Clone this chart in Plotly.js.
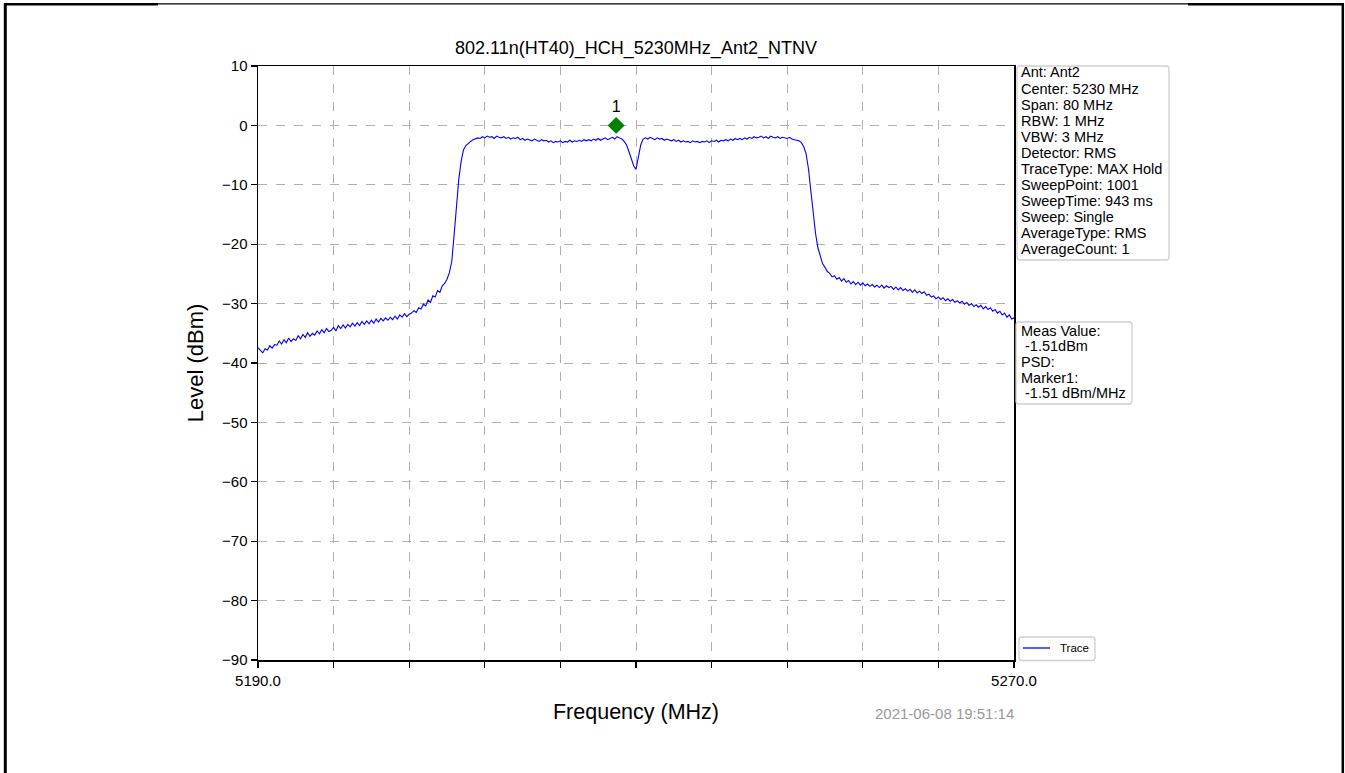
<!DOCTYPE html>
<html>
<head>
<meta charset="utf-8">
<script src="https://cdn.plot.ly/plotly-3.0.1.min.js"></script>
<style>
  html, body { margin: 0; padding: 0; background: #fff; }
  #chart { width: 1345px; height: 773px; }
</style>
</head>
<body>
<div id="chart"></div>
<script>
// ---- data ----
const startFreq = 5190.0;   // MHz
const stepFreq = 0.25;      // MHz between samples
const traceLevel = [
  // 5190.0 - 5206.0
  -37.4, -37.9, -38.3, -37.6, -37.8, -37.1, -37.5, -36.9,
  -37.0, -36.3, -36.8, -36.1, -36.6, -35.8, -36.4, -35.9,
  -36.2, -35.4, -35.9, -35.2, -35.7, -34.9, -35.5, -35.0,
  -35.3, -34.6, -35.1, -34.4, -34.9, -34.2, -34.7, -34.5,
  -34.0, -34.6, -33.7, -34.2, -33.6, -34.1, -33.5, -33.9,
  -33.3, -33.8, -33.2, -33.7, -33.0, -33.5, -32.9, -33.4,
  -32.8, -33.3, -32.6, -33.1, -32.5, -32.9, -32.4, -32.8,
  -32.3, -32.7, -32.1, -32.6, -31.9, -32.3, -31.7, -32.2,
  -31.8,
  // 5206.25 - 5214.0
  -31.6, -31.2, -31.5, -30.7, -30.9, -30.1, -30.4, -29.4,
  -29.8, -28.7, -28.9, -27.8, -28.1, -27.0, -26.6, -25.9,
  -24.8, -23.0, -18.5, -13.5, -9.0, -6.0, -4.1, -3.4,
  -3.0, -2.7, -2.4, -2.3, -2.1, -2.2, -1.9, -2.1,
  // 5214.25 - 5228.5
  -1.8, -2.0, -1.9, -2.2, -1.8, -2.0, -2.1, -1.9,
  -2.2, -2.0, -2.3, -2.1, -2.2, -2.0, -2.4, -2.2,
  -2.5, -2.3, -2.4, -2.6, -2.3, -2.5, -2.7, -2.4,
  -2.6, -2.5, -2.8, -2.6, -2.9, -2.7, -2.8, -2.6,
  -2.9, -2.7, -2.8, -2.5, -2.8, -2.6, -2.7, -2.5,
  -2.7, -2.4, -2.6, -2.4, -2.6, -2.3, -2.5, -2.2,
  -2.5, -2.3, -2.1, -2.4, -2.2, -2.0, -2.3, -1.9,
  -2.1, -2.3,
  // 5228.75 - 5231.0 (center dip)
  -2.7, -3.3, -4.4, -5.6, -6.8, -7.4, -5.4, -3.3, -2.3, -2.1,
  // 5231.25 - 5247.0
  -2.3, -2.0, -2.2, -2.4, -2.1, -2.3, -2.2, -2.5,
  -2.3, -2.4, -2.6, -2.4, -2.7, -2.5, -2.8, -2.6,
  -2.8, -2.7, -2.9, -2.6, -2.8, -2.7, -2.9, -2.7,
  -2.8, -2.6, -2.9, -2.6, -2.7, -2.5, -2.8, -2.5,
  -2.6, -2.4, -2.6, -2.3, -2.5, -2.2, -2.4, -2.2,
  -2.4, -2.1, -2.3, -2.0, -2.2, -1.9, -2.1, -2.0,
  -1.8, -2.1, -1.9, -2.2, -1.8, -2.0, -2.1, -1.9,
  -2.2, -2.0, -2.1, -2.2, -2.0, -2.3, -2.4, -2.5,
  // 5247.25 - 5250.0
  -2.6, -2.9, -3.6, -4.8, -7.3, -11.0, -15.0, -18.2,
  -20.6, -22.2, -23.3, -23.9,
  // 5250.25 - 5270.0
  -24.6, -24.9, -25.5, -25.3, -25.9, -25.6, -26.2, -25.8,
  -26.4, -26.1, -26.7, -26.3, -26.8, -26.4, -26.9, -26.5,
  -27.0, -26.7, -27.1, -26.8, -27.2, -26.9, -27.3, -26.9,
  -27.4, -27.0, -27.3, -27.1, -27.6, -27.2, -27.7, -27.3,
  -27.8, -27.5, -27.9, -27.6, -28.1, -27.7, -28.2, -27.9,
  -28.3, -28.0, -28.6, -28.4, -28.9, -28.7, -29.2, -28.9,
  -29.3, -29.0, -29.5, -29.2, -29.6, -29.3, -29.8, -29.5,
  -29.9, -29.6, -30.1, -29.8, -30.3, -30.0, -30.5, -30.2,
  -30.6, -30.3, -30.9, -30.5, -31.0, -30.7, -31.3, -31.0,
  -31.6, -31.3, -31.9, -31.6, -32.3, -31.9, -32.6, -32.4
];
const markerFreq = [5227.9];
const markerLevel = [0];
const markerLabel = ['1'];

const xTickVals = [5190, 5198, 5206, 5214, 5222, 5230, 5238, 5246, 5254, 5262, 5270];
const xTickText = ['5190.0', '', '', '', '', '', '', '', '', '', '5270.0'];
const yTickVals = [10, 0, -10, -20, -30, -40, -50, -60, -70, -80, -90];

const chartTitle = '802.11n(HT40)_HCH_5230MHz_Ant2_NTNV';
const infoLines = ['Ant: Ant2', 'Center: 5230 MHz', 'Span: 80 MHz', 'RBW: 1 MHz', 'VBW: 3 MHz',
  'Detector: RMS', 'TraceType: MAX Hold', 'SweepPoint: 1001', 'SweepTime: 943 ms',
  'Sweep: Single', 'AverageType: RMS', 'AverageCount: 1'];
const measLines = ['Meas Value:', '\u00a0-1.51dBm', 'PSD:', 'Marker1:', '\u00a0-1.51 dBm/MHz'];
const legendLabel = 'Trace';
const timestamp = '2021-06-08 19:51:14';

// ---- layout geometry (pixels) ----
const W = 1345, H = 773;
const PL = 258, PR = 1014, PT = 66, PB = 660;
const px = x => (x - PL) / (PR - PL);
const py = y => (PB - y) / (PB - PT);

const font = 'Liberation Sans, Arial, sans-serif';
const boxColor = '#cfcfcf';

const traces = [
  {
    type: 'scatter', mode: 'lines', name: legendLabel, showlegend: false,
    x0: startFreq, dx: stepFreq, y: traceLevel,
    line: { color: '#0000ff', width: 1.1 },
    hoverinfo: 'x+y'
  },
  {
    type: 'scatter', mode: 'markers+text', showlegend: false,
    x: markerFreq, y: markerLevel, text: markerLabel,
    textposition: 'top center',
    textfont: { family: font, size: 16, color: '#000' },
    marker: { symbol: 'diamond', size: 13, color: '#008000', line: { width: 0 } },
    cliponaxis: false
  }
];

// rounded rectangle path in paper coords, from pixel box
function roundRect(x0, y0, x1, y1, r) {
  const X = v => px(v).toFixed(6), Y = v => py(v).toFixed(6);
  return 'M' + X(x0 + r) + ',' + Y(y0) +
    ' L' + X(x1 - r) + ',' + Y(y0) + ' Q' + X(x1) + ',' + Y(y0) + ' ' + X(x1) + ',' + Y(y0 + r) +
    ' L' + X(x1) + ',' + Y(y1 - r) + ' Q' + X(x1) + ',' + Y(y1) + ' ' + X(x1 - r) + ',' + Y(y1) +
    ' L' + X(x0 + r) + ',' + Y(y1) + ' Q' + X(x0) + ',' + Y(y1) + ' ' + X(x0) + ',' + Y(y1 - r) +
    ' L' + X(x0) + ',' + Y(y0 + r) + ' Q' + X(x0) + ',' + Y(y0) + ' ' + X(x0 + r) + ',' + Y(y0) + ' Z';
}

const shapes = [
  // page frame
  { x0: 5.3, x1: 5.3, y0: 3.5, y1: H + 2, w: 3 },
  { x0: 4, x1: 158, y0: 4.3, y1: 4.3, w: 2.5 },
  { x0: 158, x1: 1188, y0: 3.8, y1: 3.8, w: 1.2 },
  { x0: 1188, x1: 1344, y0: 4.3, y1: 4.3, w: 2.5 },
  { x0: 1342.8, x1: 1342.8, y0: 3.5, y1: H + 2, w: 2.5 }
].map(s => ({
  type: 'line', xref: 'paper', yref: 'paper', x0: px(s.x0), x1: px(s.x1), y0: py(s.y0), y1: py(s.y1),
  line: { color: '#000', width: s.w }, layer: 'above'
}));

// info boxes and legend box
[[1017, 66, 1169, 260], [1016, 322, 1132, 404], [1019, 637, 1095, 660.5]].forEach(b => {
  shapes.push({
    type: 'path', xref: 'paper', yref: 'paper', path: roundRect(b[0], b[1], b[2], b[3], 3),
    line: { color: boxColor, width: 1.3 }, fillcolor: '#ffffff', layer: 'above'
  });
});
// legend line sample
shapes.push({
  type: 'line', xref: 'paper', yref: 'paper', x0: px(1023), x1: px(1050), y0: py(648), y1: py(648),
  line: { color: '#0000ff', width: 1.3 }, layer: 'above'
});

const annotations = [];
infoLines.forEach((t, i) => annotations.push({
  xref: 'paper', yref: 'paper', x: px(1019), y: py(72.5 + 16.05 * i), xanchor: 'left', yanchor: 'middle',
  text: t, showarrow: false, font: { family: font, size: 14.5, color: '#000' }
}));
measLines.forEach((t, i) => annotations.push({
  xref: 'paper', yref: 'paper', x: px(1019), y: py(330.5 + 15.7 * i), xanchor: 'left', yanchor: 'middle',
  text: t, showarrow: false, font: { family: font, size: 14.5, color: '#000' }
}));
annotations.push({
  xref: 'paper', yref: 'paper', x: px(1058), y: py(648), xanchor: 'left', yanchor: 'middle',
  text: legendLabel, showarrow: false, font: { family: font, size: 11.5, color: '#000' }
});
annotations.push({
  xref: 'paper', yref: 'paper', x: px(1016), y: py(713), xanchor: 'right', yanchor: 'middle',
  text: timestamp, showarrow: false, font: { family: font, size: 15, color: '#999999' }
});

const layout = {
  width: W, height: H,
  margin: { l: PL, r: W - PR, t: PT, b: H - PB, pad: 0 },
  paper_bgcolor: '#ffffff', plot_bgcolor: '#ffffff',
  font: { family: font, color: '#000' },
  title: {
    text: chartTitle, font: { family: font, size: 18, color: '#000' },
    x: 0.5, xref: 'paper', xanchor: 'center', y: 1 - 48 / H, yanchor: 'middle'
  },
  xaxis: {
    range: [5190, 5270], tickmode: 'array', tickvals: xTickVals, ticktext: xTickText,
    ticks: 'outside', ticklen: 6, tickwidth: 1.2, tickcolor: '#000',
    showline: true, linecolor: '#000', linewidth: 1.5, mirror: true,
    showgrid: true, gridcolor: '#b0b0b0', griddash: 'dash', gridwidth: 1,
    zeroline: false, tickfont: { family: font, size: 15, color: '#000' },
    title: { text: 'Frequency (MHz)', font: { family: font, size: 21.5, color: '#000' }, standoff: 16 },
    automargin: false
  },
  yaxis: {
    range: [-90, 10], tickmode: 'array', tickvals: yTickVals,
    ticks: 'outside', ticklen: 6, tickwidth: 1.2, tickcolor: '#000',
    showline: true, linecolor: '#000', linewidth: 1.5, mirror: true,
    showgrid: true, gridcolor: '#b0b0b0', griddash: 'dash', gridwidth: 1,
    zeroline: false, tickfont: { family: font, size: 15, color: '#000' },
    title: { text: 'Level (dBm)', font: { family: font, size: 22, color: '#000' }, standoff: 12 },
    automargin: false
  },
  showlegend: false,
  annotations: annotations,
  shapes: shapes
};

Plotly.newPlot('chart', traces, layout, { displayModeBar: false, staticPlot: true });
</script>
</body>
</html>
